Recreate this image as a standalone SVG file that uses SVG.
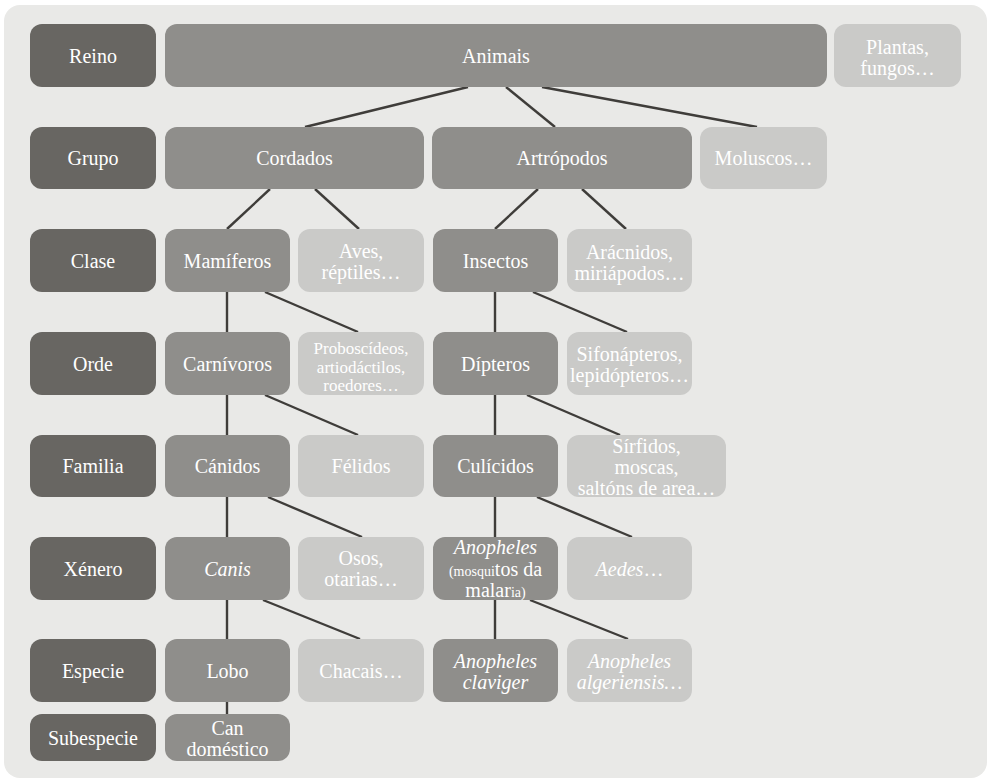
<svg xmlns="http://www.w3.org/2000/svg" width="989" height="779" viewBox="0 0 989 779" font-family="Liberation Serif, DejaVu Serif, serif">
<style>
.bg{fill:#e9e9e7}
.lab{fill:#686662}
.mid{fill:#8f8e8b}
.lt{fill:#cacac8}
text{font-size:20px;fill:#ffffff;text-anchor:middle}
.it{font-style:italic}
.sm{font-size:17px}
.xs{font-size:14px}
.con line{stroke:#3f3d3a;stroke-width:2.4;fill:none}
</style>
<rect x="0" y="0" width="989" height="779" fill="#ffffff"/>
<rect class="bg" x="4" y="5" width="983" height="773" rx="16"/>

<g class="con">
<line x1="468" y1="87" x2="305" y2="127"/>
<line x1="506" y1="87" x2="555" y2="127"/>
<line x1="542" y1="87" x2="757" y2="127"/>
<line x1="270" y1="189" x2="227" y2="229"/>
<line x1="315" y1="189" x2="359" y2="229"/>
<line x1="538" y1="189" x2="495" y2="229"/>
<line x1="582" y1="189" x2="626" y2="229"/>
<line x1="227" y1="292" x2="227" y2="332"/>
<line x1="265" y1="292" x2="358" y2="332"/>
<line x1="495" y1="292" x2="495" y2="332"/>
<line x1="533" y1="292" x2="627" y2="332"/>
<line x1="227" y1="395" x2="227" y2="435"/>
<line x1="265" y1="395" x2="358" y2="435"/>
<line x1="495" y1="395" x2="495" y2="435"/>
<line x1="527" y1="395" x2="620" y2="435"/>
<line x1="227" y1="497" x2="227" y2="537"/>
<line x1="268" y1="497" x2="362" y2="537"/>
<line x1="495" y1="497" x2="495" y2="537"/>
<line x1="537" y1="497" x2="632" y2="537"/>
<line x1="227" y1="600" x2="227" y2="639"/>
<line x1="263" y1="600" x2="360" y2="639"/>
<line x1="495" y1="600" x2="495" y2="639"/>
<line x1="530" y1="600" x2="628" y2="639"/>
<line x1="227" y1="702" x2="227" y2="714"/>
</g>

<g id="l-reino"><rect class="lab" x="30" y="24" width="126" height="63" rx="12"/><text x="93" y="63">Reino</text></g>
<g id="l-grupo"><rect class="lab" x="30" y="127" width="126" height="62" rx="12"/><text x="93" y="165">Grupo</text></g>
<g id="l-clase"><rect class="lab" x="30" y="229" width="126" height="63" rx="12"/><text x="93" y="268">Clase</text></g>
<g id="l-orde"><rect class="lab" x="30" y="332" width="126" height="63" rx="12"/><text x="93" y="371">Orde</text></g>
<g id="l-familia"><rect class="lab" x="30" y="435" width="126" height="62" rx="12"/><text x="93" y="473">Familia</text></g>
<g id="l-xenero"><rect class="lab" x="30" y="537" width="126" height="63" rx="12"/><text x="93" y="576">Xénero</text></g>
<g id="l-especie"><rect class="lab" x="30" y="639" width="126" height="63" rx="12"/><text x="93" y="678">Especie</text></g>
<g id="l-subespecie"><rect class="lab" x="30" y="714" width="126" height="47" rx="12"/><text x="93" y="745">Subespecie</text></g>

<g id="animais"><rect class="mid" x="165" y="24" width="662" height="63" rx="12"/><text x="496" y="63">Animais</text></g>
<g id="plantas"><rect class="lt" x="834" y="24" width="127" height="63" rx="12"/><text x="897.5" y="54">Plantas,</text><text x="897.5" y="75">fungos…</text></g>

<g id="cordados"><rect class="mid" x="165" y="127" width="259" height="62" rx="12"/><text x="294.5" y="165">Cordados</text></g>
<g id="artropodos"><rect class="mid" x="432" y="127" width="260" height="62" rx="12"/><text x="562" y="165">Artrópodos</text></g>
<g id="moluscos"><rect class="lt" x="700" y="127" width="127" height="62" rx="12"/><text x="763.5" y="165">Moluscos…</text></g>

<g id="mamiferos"><rect class="mid" x="165" y="229" width="125" height="63" rx="12"/><text x="227.5" y="268">Mamíferos</text></g>
<g id="aves"><rect class="lt" x="298" y="229" width="126" height="63" rx="12"/><text x="361" y="258">Aves,</text><text x="361" y="279">réptiles…</text></g>
<g id="insectos"><rect class="mid" x="433" y="229" width="125" height="63" rx="12"/><text x="495.5" y="268">Insectos</text></g>
<g id="aracnidos"><rect class="lt" x="567" y="229" width="125" height="63" rx="12"/><text x="629.5" y="259">Arácnidos,</text><text x="629.5" y="280">miriápodos…</text></g>

<g id="carnivoros"><rect class="mid" x="165" y="332" width="125" height="63" rx="12"/><text x="227.5" y="371">Carnívoros</text></g>
<g id="proboscideos"><rect class="lt" x="298" y="332" width="126" height="63" rx="12"/><text class="sm" x="361" y="354">Proboscídeos,</text><text class="sm" x="361" y="373">artiodáctilos,</text><text class="sm" x="361" y="391">roedores…</text></g>
<g id="dipteros"><rect class="mid" x="433" y="332" width="125" height="63" rx="12"/><text x="495.5" y="371">Dípteros</text></g>
<g id="sifonapteros"><rect class="lt" x="567" y="332" width="125" height="63" rx="12"/><text x="629.5" y="361">Sifonápteros,</text><text x="629.5" y="382">lepidópteros…</text></g>

<g id="canidos"><rect class="mid" x="165" y="435" width="125" height="62" rx="12"/><text x="227.5" y="473">Cánidos</text></g>
<g id="felidos"><rect class="lt" x="298" y="435" width="126" height="62" rx="12"/><text x="361" y="473">Félidos</text></g>
<g id="culicidos"><rect class="mid" x="433" y="435" width="125" height="62" rx="12"/><text x="495.5" y="473">Culícidos</text></g>
<g id="sirfidos"><rect class="lt" x="567" y="435" width="159" height="62" rx="12"/><text x="646.5" y="453">Sírfidos,</text><text x="646.5" y="474">moscas,</text><text x="646.5" y="495">saltóns de area…</text></g>

<g id="canis"><rect class="mid" x="165" y="537" width="125" height="63" rx="12"/><text class="it" x="227.5" y="576">Canis</text></g>
<g id="osos"><rect class="lt" x="298" y="537" width="126" height="63" rx="12"/><text x="361" y="565">Osos,</text><text x="361" y="586">otarias…</text></g>
<g id="anopheles"><rect class="mid" x="433" y="537" width="125" height="63" rx="12"/><text class="it" x="495.5" y="554">Anopheles</text><text x="495.5" y="576"><tspan class="xs">(mosqui</tspan>tos da</text><text x="495.5" y="597">malar<tspan class="xs">ia)</tspan></text></g>
<g id="aedes"><rect class="lt" x="567" y="537" width="125" height="63" rx="12"/><text x="629.5" y="576"><tspan class="it">Aedes</tspan>…</text></g>

<g id="lobo"><rect class="mid" x="165" y="639" width="125" height="63" rx="12"/><text x="227.5" y="678">Lobo</text></g>
<g id="chacais"><rect class="lt" x="298" y="639" width="126" height="63" rx="12"/><text x="361" y="678">Chacais…</text></g>
<g id="claviger"><rect class="mid" x="433" y="639" width="125" height="63" rx="12"/><text class="it" x="495.5" y="668">Anopheles</text><text class="it" x="495.5" y="689">claviger</text></g>
<g id="algeriensis"><rect class="lt" x="567" y="639" width="125" height="63" rx="12"/><text class="it" x="629.5" y="668">Anopheles</text><text class="it" x="629.5" y="689">algeriensis…</text></g>

<g id="can-domestico"><rect class="mid" x="165" y="714" width="125" height="47" rx="12"/><text x="227.5" y="735">Can</text><text x="227.5" y="756">doméstico</text></g>
</svg>
